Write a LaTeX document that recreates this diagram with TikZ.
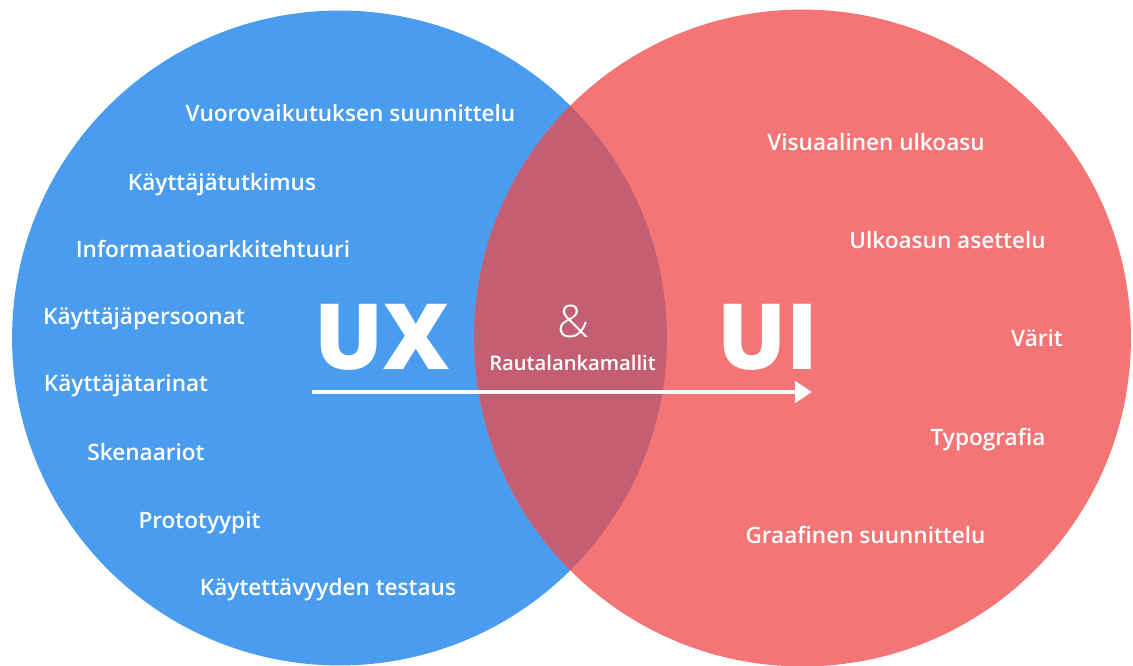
\documentclass[tikz,border=0pt]{standalone}
\usepackage{fontspec}
\setmainfont{Open Sans}
\newfontfamily\semibold{Open Sans Semibold}
\newfontfamily\heavy{Open Sans Extrabold}
\newfontfamily\light{Open Sans Light}
\usetikzlibrary{arrows.meta}
\definecolor{uxblue}{RGB}{74,157,238}
\definecolor{uired}{RGB}{243,117,118}
\definecolor{overlap}{RGB}{196,94,114}

\begin{document}
\begin{tikzpicture}[x=0.02cm, y=-0.02cm,
        topic/.style={text=white, inner sep=0pt, anchor=base, font=\semibold\fontsize{12.85}{15}\selectfont},
        big/.style={text=white, inner sep=0pt, anchor=base, font=\heavy\fontsize{52}{60}\selectfont}]
    \useasboundingbox (0,0) rectangle (1133,666);

    % the two circles
    \fill[uxblue] (339.5,338) circle (6.55cm);
    \fill[uired] (802.5,338) circle (6.57cm);
    % overlap of the two
    \begin{scope}
        \clip (339.5,338) circle (6.55cm);
        \fill[overlap] (802.5,338) circle (6.57cm);
    \end{scope}

    % UX side
    \node[topic] (interaction) at (350.5,121.7) {Vuorovaikutuksen suunnittelu};
    \node[topic] (research) at (222,190) {Käyttäjätutkimus};
    \node[topic] (infoarch) at (213,257) {Informaatioarkkitehtuuri};
    \node[topic] (personas) at (144,324.3) {Käyttäjäpersoonat};
    \node[topic] (stories) at (126,391.7) {Käyttäjätarinat};
    \node[topic] (scenarios) at (146,460) {Skenaariot};
    \node[topic] (prototypes) at (199.5,528) {Prototyypit};
    \node[topic] (testing) at (328,595) {Käytettävyyden testaus};

    % UI side
    \node[topic] (visual) at (876,150) {Visuaalinen ulkoasu};
    \node[topic] (layout) at (947.5,248.3) {Ulkoasun asettelu};
    \node[topic] (colours) at (1037,346) {Värit};
    \node[topic] (typo) at (988,445) {Typografia};
    \node[topic] (graphic) at (865.5,543) {Graafinen suunnittelu};

    % middle
    \node[big] (ux) at (382,369) {UX};
    \node[big] (ui) at (767.5,369) {UI};
    \node[text=white, inner sep=0pt, anchor=base, font=\light\fontsize{25.5}{30}\selectfont] (amp) at (573,337) {\&};
    \node[topic, font=\semibold\fontsize{11.5}{13}\selectfont] (wireframes) at (572.5,370) {Rautalankamallit};

    % arrow from UX to UI
    \coordinate (arrowstart) at (312,392);
    \coordinate (arrowend) at (812,392);
    \draw[white, line width=2.3pt, -{Triangle[length=9.6pt, width=11.9pt]}] (arrowstart) -- (arrowend);
\end{tikzpicture}
\end{document}
